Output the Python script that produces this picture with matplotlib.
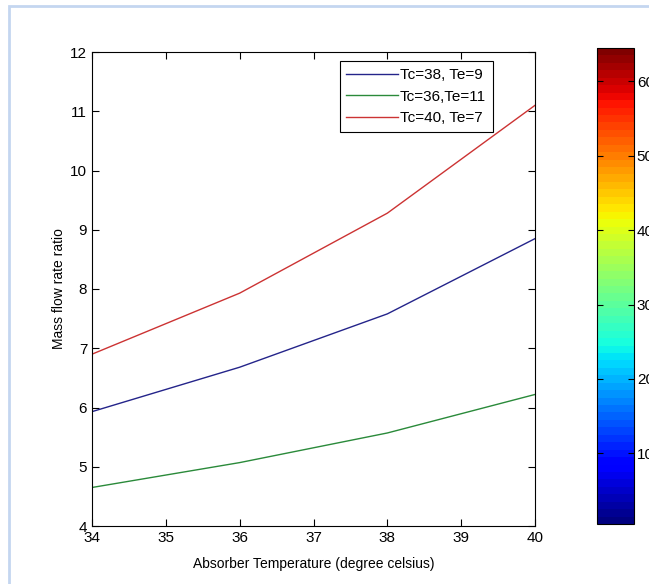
import matplotlib
matplotlib.use('Agg')
import matplotlib.pyplot as plt
import numpy as np
from matplotlib.patches import Rectangle
from matplotlib.colors import Normalize
import matplotlib.cm as cm

plt.rcParams['font.family'] = ['Liberation Sans', 'DejaVu Sans']

# data
temp = [34, 36, 38, 40]
ratio_38_9 = [5.93, 6.68, 7.58, 8.85]
ratio_36_11 = [4.65, 5.07, 5.57, 6.22]
ratio_40_7 = [6.9, 7.93, 9.28, 11.1]
labels = ['Tc=38, Te=9', 'Tc=36,Te=11', 'Tc=40, Te=7']
cbar_ticks = [10, 20, 30, 40, 50, 60]

fig = plt.figure(figsize=(6.49, 5.84), dpi=100)
# light blue frame round the picture
fig.patches.append(Rectangle((9/649, -0.05), 1.1, 1 - 6/584 + 0.05, transform=fig.transFigure,
                             fill=False, edgecolor='#c4d6f0', linewidth=2))

ax = fig.add_axes([92/649, 1 - 526/584, 443/649, 474/584])
ax.plot(temp, ratio_38_9, color='#24248a', linewidth=1.0, label=labels[0])
ax.plot(temp, ratio_36_11, color='#2a8a3a', linewidth=1.0, label=labels[1])
ax.plot(temp, ratio_40_7, color='#cc3333', linewidth=1.0, label=labels[2])
ax.set_xlim(34, 40)
ax.set_ylim(4, 12)
ax.set_xticks(range(34, 41))
ax.set_yticks(range(4, 13))
ax.tick_params(direction='in', top=True, right=True, labelsize=11, length=5, width=0.8)
for s in ax.spines.values():
    s.set_linewidth(0.8)
ax.set_xlabel('Absorber Temperature (degree celsius)', fontsize=10, labelpad=9)
ax.set_ylabel('Mass flow rate ratio', fontsize=10, labelpad=3)
leg = ax.legend(loc='upper right', bbox_to_anchor=(0.905, 0.981), borderaxespad=0,
                fontsize=11, fancybox=False, framealpha=1, edgecolor='black',
                handlelength=3.4, handletextpad=0.1, borderpad=0.45, labelspacing=0.5)
leg.get_frame().set_linewidth(0.8)

cax = fig.add_axes([597/649, 1 - 524/584, 37/649, 476/584])
sm = cm.ScalarMappable(norm=Normalize(0.5, 64.5), cmap=plt.get_cmap('jet', 64))
cb = fig.colorbar(sm, cax=cax, ticks=cbar_ticks)
cb.outline.set_linewidth(0.8)
cax.tick_params(direction='in', left=True, right=True, labelsize=11, length=4, width=0.8, pad=2)

fig.savefig('out.png', dpi=100)
